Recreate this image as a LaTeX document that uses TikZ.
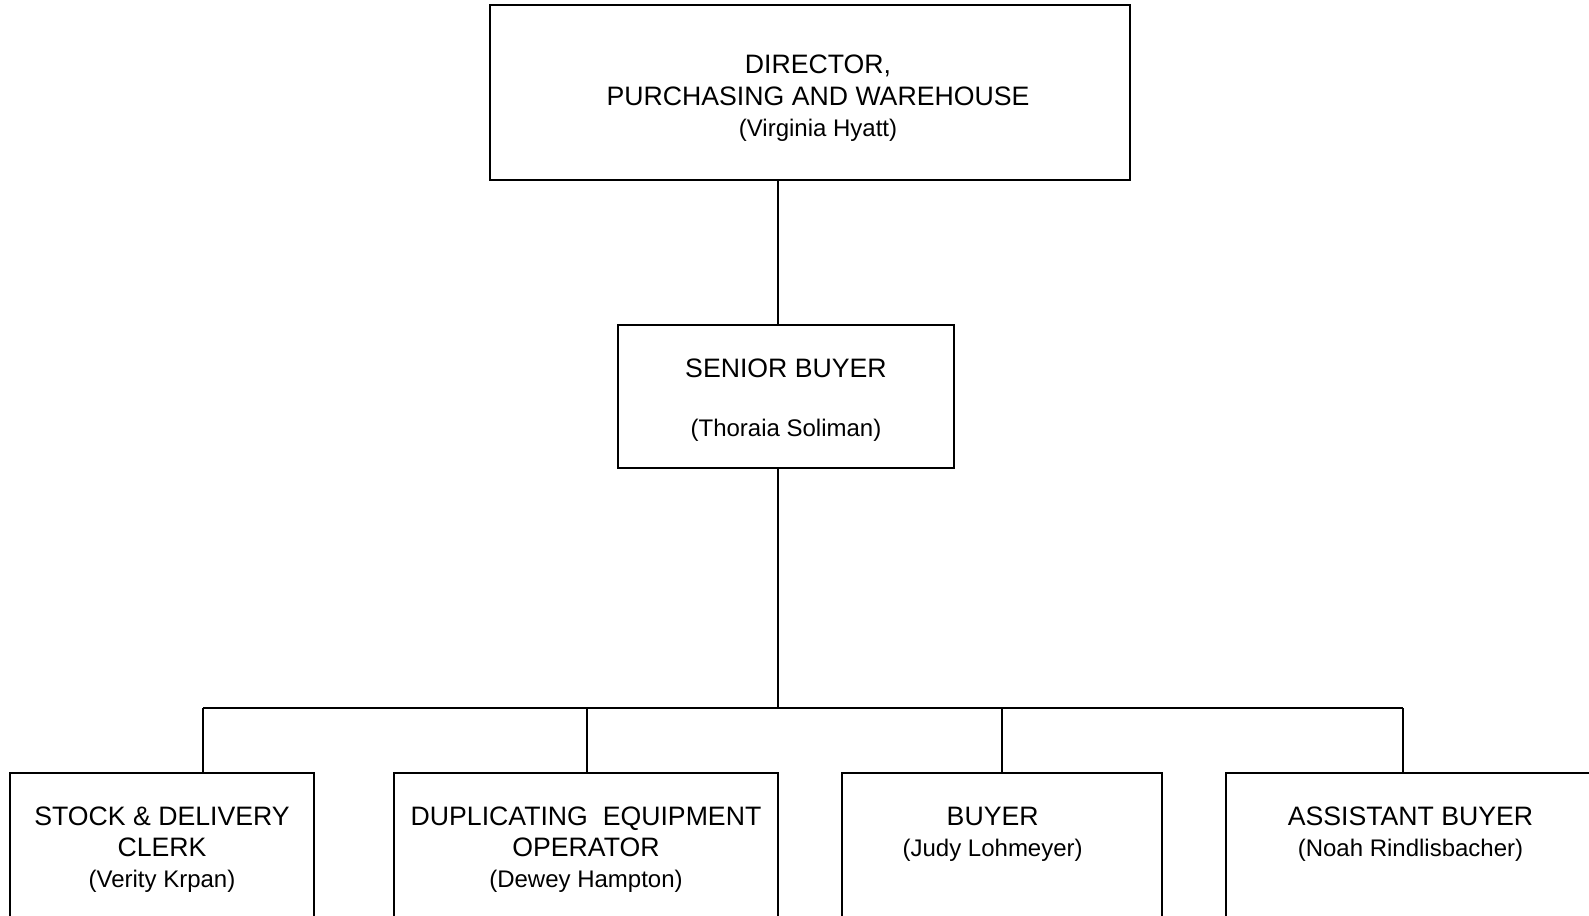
\documentclass[tikz,border=0pt]{standalone}
\usepackage{fontspec}
\setmainfont{Liberation Sans}
\usetikzlibrary{positioning}
\tikzset{
    post/.style={
        draw,
        line width=1.1pt,
        inner sep=0pt,
        minimum height=140.25pt
    },
    title/.style={
        align=center,
        inner sep=0pt,
        font=\fontsize{20}{23.5}\selectfont
    },
    link/.style={draw, line width=1.1pt}
}
\newcommand{\who}[1]{{\fontsize{18}{23.5}\selectfont #1}}

\begin{document}
\begin{tikzpicture}[x=0.75pt, y=-0.75pt]
        \useasboundingbox (0,0) rectangle (1589,916);
        \clip (0,0) rectangle (1589,916);
        \node[post, minimum width=480pt, minimum height=131.25pt] (director) at (810,92.5) {};
        \node[post, minimum width=252pt, minimum height=107.25pt] (senior) at (786,396.5) {};

        \node[post, minimum width=228pt] (clerk) at (162,866.5) {};
        \node[post, minimum width=288pt] (operator) at (586,866.5) {};
        \node[post, minimum width=240pt] (buyer) at (1002,866.5) {};
        \node[post, minimum width=276.75pt] (assistant) at (1410.5,866.5) {};

        \node[title, xshift=6pt, yshift=-4.5pt] (directortxt) at (director.center)
            {DIRECTOR,\\PURCHASING AND WAREHOUSE\\\who{(Virginia Hyatt)}};
        \node[title, yshift=-3pt] (seniortxt) at (senior.center)
            {SENIOR BUYER\\[21pt]\who{(Thoraia Soliman)}};
        \node[title, below=25.5pt of clerk.north] (clerktxt)
            {STOCK \& DELIVERY\\CLERK\\\who{(Verity Krpan)}};
        \node[title, below=25.5pt of operator.north] (operatortxt)
            {DUPLICATING~ EQUIPMENT\\OPERATOR\\\who{(Dewey Hampton)}};
        \node[title, below=26pt of buyer.north, xshift=-7pt] (buyertxt)
            {BUYER\\\who{(Judy Lohmeyer)}};
        \node[title, below=25.5pt of assistant.north] (assistanttxt)
            {ASSISTANT BUYER\\\who{(Noah Rindlisbacher)}};

        \coordinate (hub) at (778,708);
        \coordinate (b1) at (203,708);
        \coordinate (b2) at (587,708);
        \coordinate (b3) at (1002,708);
        \coordinate (b4) at (1403,708);
        \draw[link] (hub |- director.south) -- (hub |- senior.north);
        \draw[link] (hub |- senior.south) -- (hub);
        \draw[link] (b1) -- (b4);
        \foreach \b/\n in {b1/clerk, b2/operator, b3/buyer, b4/assistant}
            \draw[link] (\b) -- (\b |- \n.north);
    \end{tikzpicture}
\end{document}
